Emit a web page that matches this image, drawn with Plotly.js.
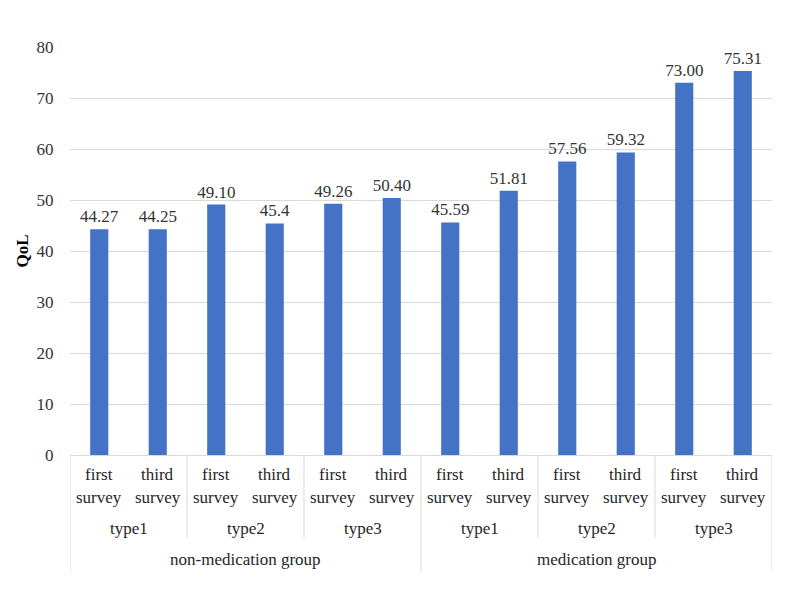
<!DOCTYPE html>
<html>
<head>
<meta charset="utf-8">
<script src="https://cdn.plot.ly/plotly-3.0.1.min.js"></script>
<style>html,body{margin:0;padding:0;background:#fff;}#chart{width:800px;height:596px;}</style>
</head>
<body>
<div id="chart"></div>
<script>
// ---- data ----
var surveyLabels = ["first survey","third survey","first survey","third survey","first survey","third survey",
                    "first survey","third survey","first survey","third survey","first survey","third survey"];
var typeLabels = ["type1","type2","type3","type1","type2","type3"];
var groupLabels = ["non-medication group","medication group"];
var qolValues = [44.27, 44.25, 49.10, 45.4, 49.26, 50.40, 45.59, 51.81, 57.56, 59.32, 73.00, 75.31];
var valueLabels = ["44.27","44.25","49.10","45.4","49.26","50.40","45.59","51.81","57.56","59.32","73.00","75.31"];
var yTicks = [0,10,20,30,40,50,60,70,80];

// ---- build ----
var FAMILY = "Liberation Serif";
function mkFont(sz, col){ return {family: FAMILY, size: sz || 17, color: col || "#333333"}; }
var idx = qolValues.map(function(_, i){ return i; });
var annotations = [];
var shapes = [];
var lineColor = "#d9d9d9";

function addLabel(x, y, txt){
  annotations.push({x: x, y: y, xref: "x", yref: "paper", text: txt, showarrow: false,
                    font: mkFont(17, "#262626"), xanchor: "center", yanchor: "middle"});
}
surveyLabels.forEach(function(lbl, i){
  var parts = lbl.split(" ");
  addLabel(i, -0.049, parts[0]);
  addLabel(i, -0.105, parts[1]);
});
var perType = surveyLabels.length / typeLabels.length;
typeLabels.forEach(function(lbl, t){ addLabel(t*perType + (perType-1)/2, -0.181, lbl); });
var perGroup = surveyLabels.length / groupLabels.length;
groupLabels.forEach(function(lbl, g){ addLabel(g*perGroup + (perGroup-1)/2, -0.257, lbl); });

for (var b = 0; b <= typeLabels.length; b++) {
  var xb = b*perType - 0.5;
  var isGroupEdge = ((b*perType) % perGroup === 0);
  shapes.push({type: "line", xref: "x", yref: "paper", x0: xb, x1: xb, y0: 0, y1: isGroupEdge ? -0.287 : -0.203,
               line: {color: lineColor, width: 1}});
}

var trace = {
  type: "bar",
  x: idx,
  y: qolValues,
  text: valueLabels,
  texttemplate: "%{text}",
  textposition: "outside",
  constraintext: "none",
  cliponaxis: false,
  outsidetextfont: mkFont(17, "#333333"),
  textfont: mkFont(17, "#333333"),
  marker: {color: "#4472c4"},
  width: 0.31,
  hoverinfo: "none"
};

var layout = {
  width: 800, height: 596,
  margin: {l: 70, r: 28, t: 47, b: 141},
  paper_bgcolor: "#ffffff",
  plot_bgcolor: "#ffffff",
  showlegend: false,
  font: mkFont(17),
  xaxis: {
    range: [-0.5, 11.5],
    showticklabels: false,
    showgrid: false,
    zeroline: false,
    showline: true,
    linecolor: lineColor,
    linewidth: 1,
    fixedrange: true
  },
  yaxis: {
    range: [0, 80],
    tickvals: yTicks,
    ticktext: yTicks.map(String),
    showgrid: true,
    gridcolor: lineColor,
    gridwidth: 1,
    zeroline: false,
    showline: false,
    ticks: "outside",
    ticklen: 12,
    tickcolor: "rgba(0,0,0,0)",
    tickfont: mkFont(17, "#333333"),
    title: {text: "<b>QoL</b>", font: mkFont(17, "#000000"), standoff: 3},
    fixedrange: true
  },
  annotations: annotations,
  shapes: shapes
};

Plotly.newPlot("chart", [trace], layout, {staticPlot: true, displayModeBar: false});
</script>
</body>
</html>
